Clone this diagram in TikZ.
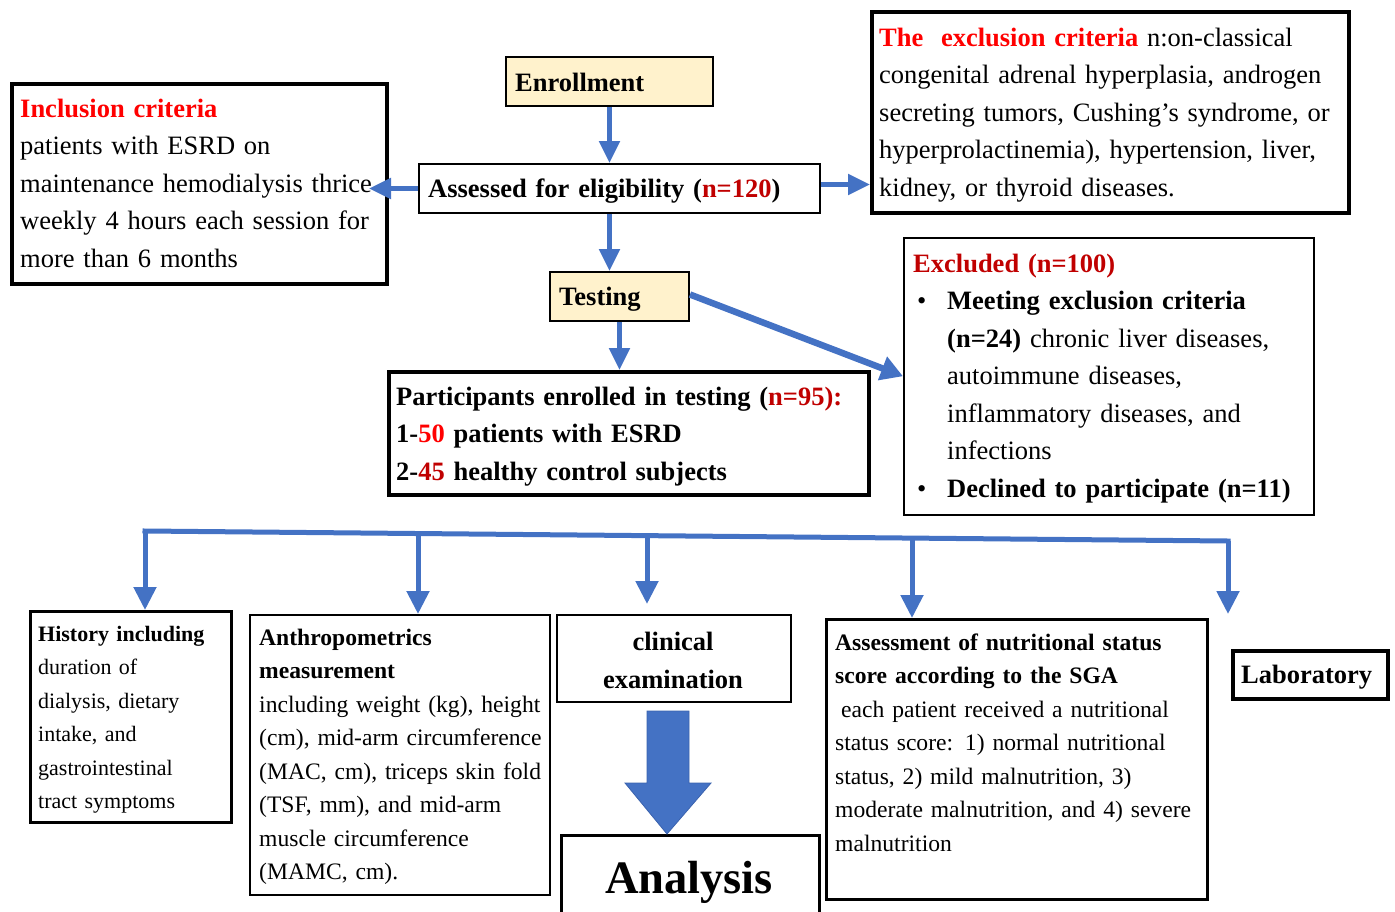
\documentclass[tikz,border=0pt]{standalone}
\usepackage{fontspec}
\setmainfont{Liberation Serif}
\usetikzlibrary{arrows.meta,calc}
\definecolor{arrowblue}{HTML}{4472C4}
\definecolor{arrowedge}{HTML}{3A62AE}
\definecolor{lightyellow}{HTML}{FFF2CC}
\definecolor{darkred}{HTML}{C00000}
\definecolor{brightred}{HTML}{FF0000}
\begin{document}
\begin{tikzpicture}[x=1pt,y=-1pt,
  thickbox/.style={draw=black, line width=4pt, rectangle, inner sep=0pt, anchor=north west},
  midbox/.style={draw=black, line width=3pt, rectangle, inner sep=0pt, anchor=north west},
  thinbox/.style={draw=black, line width=2pt, rectangle, inner sep=0pt, anchor=north west},
  yellowbox/.style={thinbox, fill=lightyellow},
  bigtext/.style={font=\fontsize{26.5}{37.5}\selectfont},
  smalltext/.style={font=\fontsize{23.6}{33.5}\selectfont},
  histtext/.style={font=\fontsize{22}{33.5}\selectfont},
  txt/.style={inner sep=0pt, anchor=base west, align=left, text width=600pt},
  flow/.style={draw=arrowblue, line width=5pt, -{Triangle[width=20pt,length=22pt]}},
  drop/.style={draw=arrowblue, line width=5pt, -{Triangle[width=22pt,length=23pt]}},
  busline/.style={draw=arrowblue, line width=5pt, line cap=rect}
]
\useasboundingbox (0,0) rectangle (1395,911);

% ---------- boxes ----------
\node[thickbox, minimum width=375, minimum height=200] (incl) at (10,82) {};
\node[yellowbox, minimum width=207, minimum height=49] (enroll) at (505,56) {};
\node[thinbox, minimum width=401, minimum height=49] (assess) at (418,163) {};
\node[thickbox, minimum width=477, minimum height=201] (exclcrit) at (870,10) {};
\node[yellowbox, minimum width=139, minimum height=49] (testing) at (549,271) {};
\node[thickbox, minimum width=480, minimum height=123] (partic) at (387,370) {};
\node[draw=black, line width=1.5pt, rectangle, inner sep=0pt, anchor=north west, minimum width=410, minimum height=277] (excluded) at (903,237) {};
\node[midbox, minimum width=201, minimum height=211] (history) at (29,610) {};
\node[thinbox, minimum width=300, minimum height=280] (anthro) at (249,614) {};
\node[thinbox, minimum width=234, minimum height=87] (clinical) at (556,614) {};
\node[thinbox, line width=2.5pt, minimum width=258, minimum height=100] (analysis) at (560,834) {};
\node[midbox, minimum width=381, minimum height=280] (assessm) at (825,618) {};
\node[thickbox, minimum width=155, minimum height=48] (lab) at (1231,649) {};

% ---------- texts ----------
\node[txt, bigtext] (inclT) at (20,117) {{\bfseries\color{brightred}Inclusion criteria}\\
patients with ESRD on\\
maintenance hemodialysis thrice\\
weekly 4 hours each session for\\
more than 6 months};

\node[txt, bigtext] (enrollT) at (515,91) {\bfseries Enrollment};
\node[txt, bigtext] (assessT) at (428,197) {\bfseries Assessed for eligibility ({\color{darkred}n=120})};

\node[txt, bigtext] (exclcritT) at (879,46) {{\bfseries\color{brightred}The~ exclusion criteria} n:on-classical\\
congenital adrenal hyperplasia, androgen\\
secreting tumors, Cushing’s syndrome, or\\
hyperprolactinemia), hypertension, liver,\\
kidney, or thyroid diseases.};

\node[txt, bigtext] (testingT) at (559,305) {\bfseries Testing};

\node[txt, bigtext, font=\bfseries\fontsize{26.5}{37.5}\selectfont] (particT) at (396,405) {Participants enrolled in testing ({\color{darkred}n=95):}\\
1-{\color{brightred}50} patients with ESRD\\
2-{\color{darkred}45} healthy control subjects};

\node[txt, bigtext] (excludedT) at (913,272) {{\bfseries\color{darkred}Excluded (n=100)}\\
\hspace*{4pt}\makebox[30pt][l]{•}\textbf{Meeting exclusion criteria}\\
\hspace*{34pt}\textbf{(n=24)} chronic liver diseases,\\
\hspace*{34pt}autoimmune diseases,\\
\hspace*{34pt}inflammatory diseases, and\\
\hspace*{34pt}infections\\
\hspace*{4pt}\makebox[30pt][l]{•}\textbf{Declined to participate (n=11)}};

\node[txt, histtext] (historyT) at (38,641) {\textbf{History including}\\
duration of\\
dialysis, dietary\\
intake, and\\
gastrointestinal\\
tract symptoms};

\node[txt, smalltext] (anthroT) at (259,645) {\textbf{Anthropometrics}\\
\textbf{measurement}\\
including weight (kg), height\\
(cm), mid-arm circumference\\
(MAC, cm), triceps skin fold\\
(TSF, mm), and mid-arm\\
muscle circumference\\
(MAMC, cm).};

\node[inner sep=0pt, anchor=base, align=center, text width=234pt, font=\bfseries\fontsize{26.5}{38}\selectfont] (clinicalT) at (673,650) {clinical\\ examination};

\node[inner sep=0pt, anchor=base, font=\bfseries\fontsize{46.5}{50}\selectfont] (analysisT) at (689,893) {Analysis};

\node[txt, smalltext] (assessmT) at (835,650) {\textbf{Assessment of nutritional status}\\
\textbf{score according to the SGA}\\
\hspace*{6pt}each patient received a nutritional\\
status score: 1) normal nutritional\\
status, 2) mild malnutrition, 3)\\
moderate malnutrition, and 4) severe\\
malnutrition};

\node[txt, bigtext] (labT) at (1241,683) {\bfseries Laboratory};

% ---------- connectors ----------
\draw[flow] (enroll.south) -- (enroll.south |- assess.north);
\draw[flow] (assess.west) -- ([xshift=-20pt]incl.east |- assess.west);
\draw[flow] ([yshift=4pt]assess.east) -- ([yshift=4pt]assess.east -| exclcrit.west);
\draw[flow] (assess.south -| enroll.south) -- (testing.north -| enroll.south);
\draw[flow] (testing.south) -- (testing.south |- partic.north);
\draw[draw=arrowblue, line width=6.5pt, -{Triangle[width=24pt,length=22pt]}] ([yshift=2pt]testing.east) -- (excluded.west);

% bus line
\coordinate (busL) at (145,531);
\coordinate (busR) at (1228,541);
\coordinate (bus2) at (418,533.5);
\coordinate (bus3) at (647,535.6);
\coordinate (bus4) at (912,538.1);
\coordinate (labTip) at (1228,614);
\draw[busline] (busL) -- (busR);
\draw[drop] (busL) -- (busL |- history.north);
\draw[drop] (bus2) -- (bus2 |- anthro.north);
\draw[drop] (bus3) -- ([yshift=10pt]bus3 |- clinical.north);
\draw[drop] (bus4) -- (bus4 |- assessm.north);
\draw[drop] (busR) -- (labTip);

% big block arrow clinical -> analysis
\draw[fill=arrowblue, draw=arrowedge, line width=0.8pt]
  ([xshift=-27pt,yshift=-8pt]clinical.south) -- ([xshift=15pt,yshift=-8pt]clinical.south)
  -- ([xshift=15pt,yshift=-80pt]clinical.south) -- ([xshift=37pt,yshift=-80pt]clinical.south)
  -- (analysis.north -| 667,0) -- ([xshift=-49pt,yshift=-80pt]clinical.south)
  -- ([xshift=-27pt,yshift=-80pt]clinical.south) -- cycle;
\end{tikzpicture}
\end{document}
